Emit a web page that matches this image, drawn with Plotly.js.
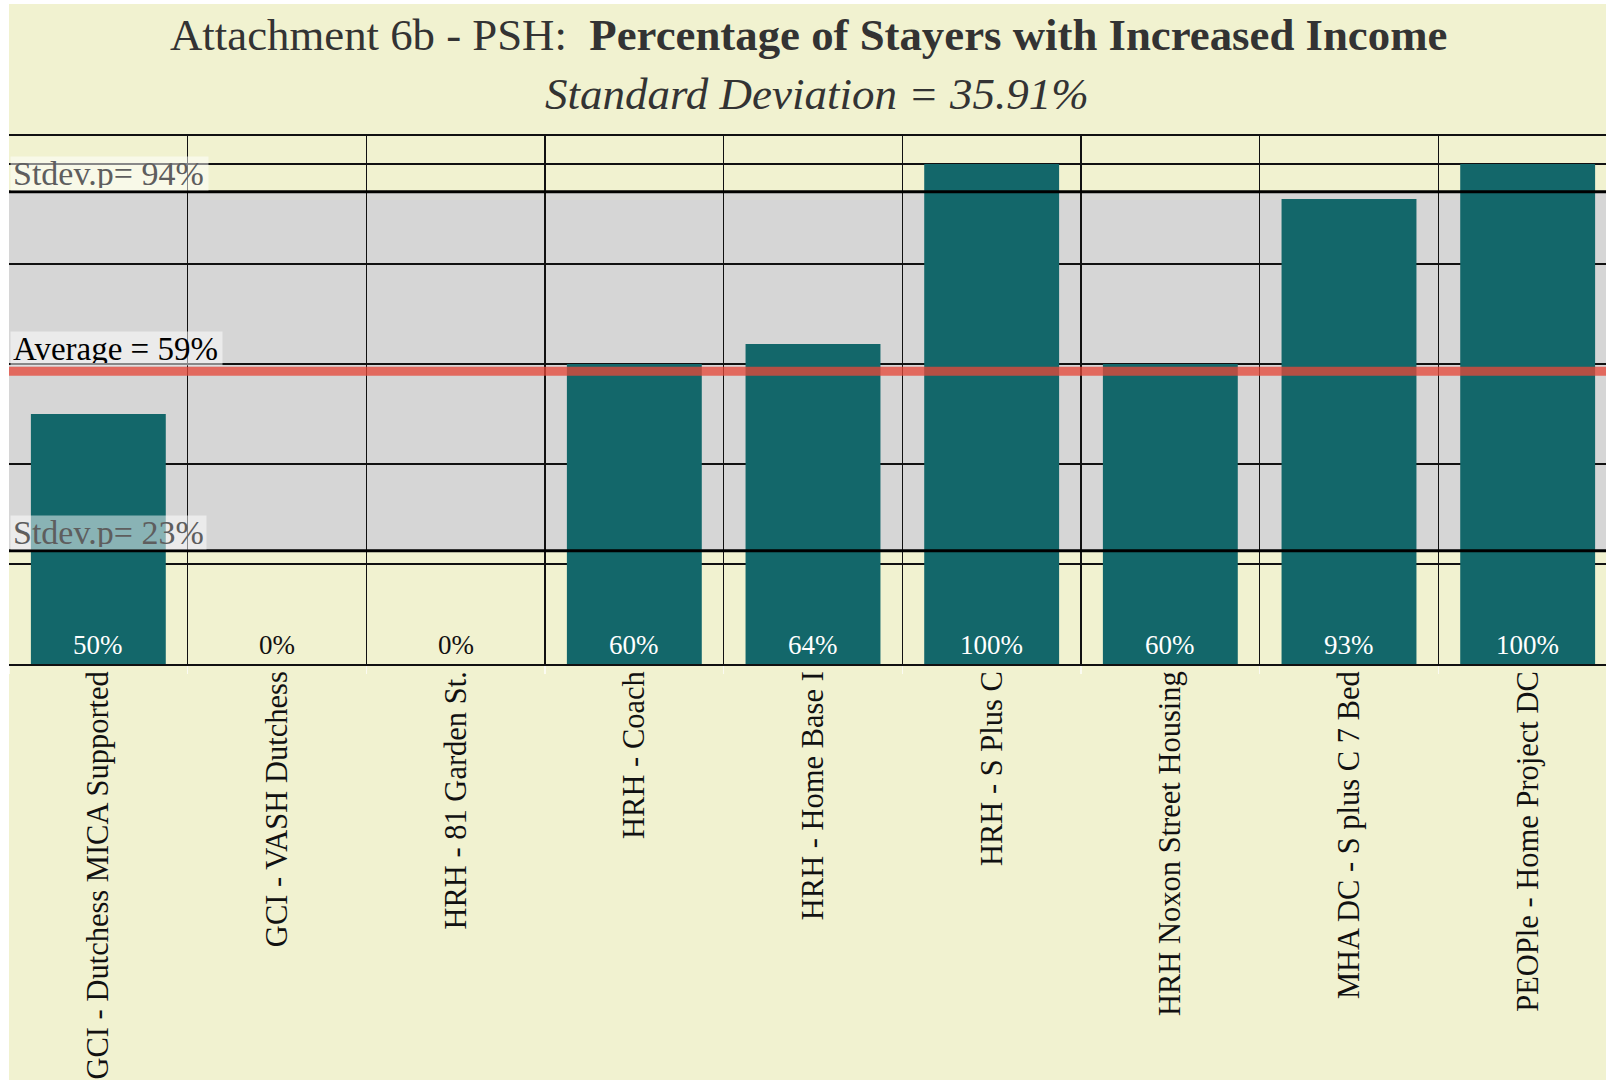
<!DOCTYPE html>
<html>
<head>
<meta charset="utf-8">
<script src="https://cdn.plot.ly/plotly-3.0.1.min.js"></script>
<style>
  html, body { margin: 0; padding: 0; background: #ffffff; overflow: hidden; width: 1606px; height: 1080px; }
  #chart { position: absolute; left: 9px; top: 4px; width: 1610px; height: 1076px; }
</style>
</head>
<body>
<div id="chart"></div>
<script>
// ---- data ----
const categories = [
  "GCI - Dutchess MICA Supported",
  "GCI - VASH Dutchess",
  "HRH - 81 Garden St.",
  "HRH - Coach",
  "HRH - Home Base I",
  "HRH - S Plus C",
  "HRH Noxon Street Housing",
  "MHA DC - S plus C 7 Bed",
  "PEOPle - Home Project DC"
];
const values = [50, 0, 0, 60, 64, 100, 60, 93, 100];
const valueLabels = ["50%", "0%", "0%", "60%", "64%", "100%", "60%", "93%", "100%"];
const average = 58.56;
const stdev = 35.91;
const averageLabel = "Average = 59%";
const upperLabel = "Stdev.p= 94%";
const lowerLabel = "Stdev.p= 23%";
const titleMain = "Attachment 6b - PSH:";
const titleBold = "Percentage of Stayers with Increased Income";
const subtitle = "Standard Deviation = 35.91%";

// ---- styles ----
const FONT = "Liberation Serif, Times New Roman, serif";
const TEAL = "#13676a";
const PAPER = "#f1f2d0";

const upper = average + stdev;
const lower = average - stdev;

const barTrace = {
  type: "bar",
  x: categories,
  y: values,
  marker: { color: TEAL, line: { width: 0 } },
  hoverinfo: "skip"
};

const labelAnnotations = categories.map((c, i) => ({
  x: c, y: 0, xref: "x", yref: "y",
  yanchor: "bottom", xanchor: "center",
  yshift: 2,
  text: valueLabels[i],
  showarrow: false,
  font: { family: FONT, size: 27, color: values[i] > 0 ? "#ffffff" : "#111111" }
}));

const refAnnotations = [
  { text: upperLabel, y: upper, color: "#5e5e5e", size: 34, width: 193, yshift: 1 },
  { text: averageLabel, y: average, color: "#000000", size: 33, width: 207, yshift: 5 },
  { text: lowerLabel, y: lower, color: "#5e5e5e", size: 34, width: 191, yshift: 1 }
].map(r => ({
  x: 0, xref: "paper", y: r.y, yref: "y",
  xanchor: "left", yanchor: "bottom", xshift: 1, yshift: r.yshift,
  text: r.text, showarrow: false, align: "left",
  width: r.width, height: 29, borderpad: 2, valign: "middle",
  bgcolor: "rgba(255,255,255,0.5)",
  font: { family: FONT, size: r.size, color: r.color }
}));

const titleAnnotations = [
  {
    x: 0.4975, xref: "paper", y: 1.1913, yref: "paper",
    xanchor: "center", yanchor: "middle", showarrow: false,
    text: titleMain + "\u00a0 <b>" + titleBold + "</b>",
    font: { family: FONT, size: 44.8, color: "#333333" }
  },
  {
    x: 0.5025, xref: "paper", y: 1.0795, yref: "paper",
    xanchor: "center", yanchor: "middle", showarrow: false,
    text: "<i>" + subtitle + "</i>",
    font: { family: FONT, size: 45, color: "#333333" }
  }
];

const layout = {
  width: 1610,
  height: 1076,
  margin: { l: 0, r: 2, t: 132, b: 416, pad: 0 },
  paper_bgcolor: PAPER,
  plot_bgcolor: PAPER,
  showlegend: false,
  bargap: 0.245,
  xaxis: {
    type: "category",
    tickson: "boundaries",
    showgrid: true,
    gridcolor: "#111111",
    gridwidth: 1.5,
    showline: true,
    linecolor: "#111111",
    linewidth: 2,
    mirror: true,
    ticks: "outside",
    ticklen: 8,
    tickwidth: 1.5,
    tickcolor: "#fbfbf2",
    tickangle: -90,
    ticklabelstandoff: -7,
    tickfont: { family: FONT, size: 30.5, color: "#111111" },
    automargin: false,
    fixedrange: true
  },
  yaxis: {
    range: [0, 105.6],
    dtick: 20,
    showgrid: true,
    gridcolor: "#111111",
    gridwidth: 1.5,
    zeroline: false,
    showline: true,
    linecolor: "#111111",
    linewidth: 2,
    mirror: true,
    showticklabels: false,
    ticks: "",
    automargin: false,
    fixedrange: true
  },
  shapes: [
    { type: "rect", layer: "below", xref: "paper", x0: 0, x1: 1, yref: "y", y0: lower, y1: upper,
      fillcolor: "#d6d6d6", line: { width: 0 } },
    { type: "line", layer: "above", xref: "paper", x0: 0, x1: 1, yref: "y", y0: upper, y1: upper,
      line: { color: "#000000", width: 3 } },
    { type: "line", layer: "above", xref: "paper", x0: 0, x1: 1, yref: "y", y0: lower, y1: lower,
      line: { color: "#000000", width: 3 } },
    { type: "line", layer: "above", xref: "paper", x0: 0, x1: 1, yref: "y", y0: average, y1: average,
      line: { color: "rgba(229,71,57,0.77)", width: 9 } }
  ],
  annotations: titleAnnotations.concat(refAnnotations, labelAnnotations)
};

Plotly.newPlot("chart", [barTrace], layout, { staticPlot: true, displayModeBar: false });
</script>
</body>
</html>
